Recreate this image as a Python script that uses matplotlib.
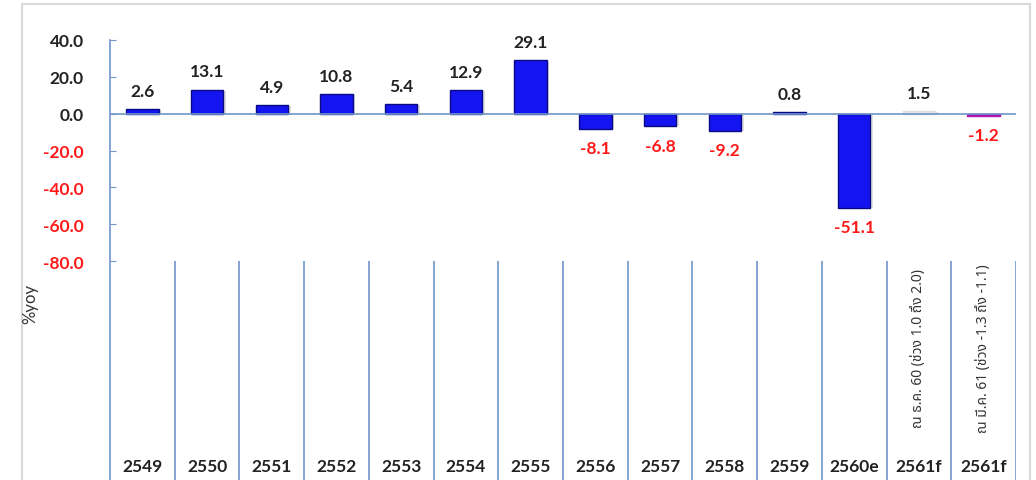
import matplotlib
matplotlib.use('Agg')
import matplotlib.pyplot as plt
from matplotlib.patches import Rectangle

plt.rcParams['font.family'] = ['Lato', 'Noto Sans Thai', 'DejaVu Sans']

years = ['2549', '2550', '2551', '2552', '2553', '2554', '2555',
         '2556', '2557', '2558', '2559', '2560e', '2561f', '2561f']
values = [2.6, 13.1, 4.9, 10.8, 5.4, 12.9, 29.1,
          -8.1, -6.8, -9.2, 0.8, -51.1, 1.5, -1.2]
notes = {12: 'ณ ธ.ค. 60 (ช่วง 1.0 ถึง 2.0)',
         13: 'ณ มี.ค. 61 (ช่วง -1.3 ถึง -1.1)'}
yticks = [40, 20, 0, -20, -40, -60, -80]

bar_colors = ['#1414f0'] * 12 + ['#e6e6e6', '#b414b4']
edge_colors = ['#0a0a80'] * 12 + ['#e0e0e0', '#b414b4']
axis_col = '#6f95c9'
num_font = ['Lato', 'DejaVu Sans']
thai_font = ['Noto Sans Thai', 'DejaVu Sans']

fig = plt.figure(figsize=(10.36, 4.81), dpi=100)
# outer frame of the chart area
fig.patches.append(Rectangle((22 / 1036, -0.01), 1008 / 1036, 1 - 5 / 481 + 0.01,
                             transform=fig.transFigure, fill=False,
                             edgecolor='#d9d9d9', linewidth=1.5))

ax = fig.add_axes([110 / 1036, 0, 906 / 1036, 440 / 481])
x = range(len(values))

# soft shadow behind the bars
ax.bar([i + 0.04 for i in x], values, width=0.5, color='#000000', alpha=0.12,
       bottom=[-0.8 if v > 0 else 0.0 for v in values], zorder=1)
ax.bar(x, values, width=0.5, color=bar_colors, edgecolor=edge_colors,
       linewidth=1, zorder=2)

for i, v in enumerate(values):
    if v >= 0:
        ax.annotate(f'{v:.1f}', (i, v), xytext=(0, 13), textcoords='offset points',
                    ha='center', va='center', fontsize=12.5, fontweight='bold',
                    family=num_font, color='#222222')
    else:
        ax.annotate(f'{v:.1f}', (i, v), xytext=(0, -14), textcoords='offset points',
                    ha='center', va='center', fontsize=12.5, fontweight='bold',
                    family=num_font, color='#ff1a1a')

ax.set_xlim(-0.5, len(values) - 0.5)
ax.set_ylim(-198.9, 40)
ax.axhline(0, color=axis_col, linewidth=1.2, zorder=3)
ax.vlines([k - 0.5 for k in range(1, len(values) + 1)], -198.9, -80,
          color=axis_col, linewidth=1.2)

for s in ['top', 'right', 'bottom']:
    ax.spines[s].set_visible(False)
ax.spines['left'].set_color(axis_col)
ax.spines['left'].set_linewidth(1.2)

ax.set_xticks([])
ax.set_yticks(yticks)
ax.set_yticklabels([f'{t:.1f}' for t in yticks])
ax.tick_params(axis='y', direction='in', length=4, color=axis_col, pad=19,
               labelsize=12.5)
for lab, t in zip(ax.get_yticklabels(), yticks):
    lab.set_fontweight('bold')
    lab.set_family(num_font)
    lab.set_color('#ff1a1a' if t < 0 else '#222222')

for i, name in enumerate(years):
    ax.text(i, -191.3, name, ha='center', va='center', fontsize=12.5,
            fontweight='bold', family=num_font, color='#222222')
for i, txt in notes.items():
    ax.text(i, -127, txt, ha='center', va='center', rotation=90, fontsize=10,
            family=thai_font, color='#333333')

fig.text(30 / 1036, 1 - 304 / 481, '%yoy', rotation=90, ha='center', va='center',
         fontsize=12, family=num_font, color='#333333')

fig.savefig('out.png', dpi=100)
